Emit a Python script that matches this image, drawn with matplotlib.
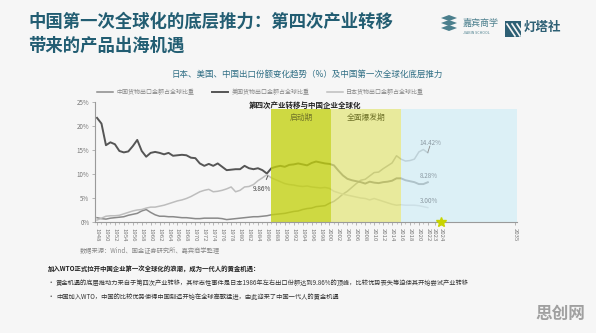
import numpy as np
import matplotlib
matplotlib.use("Agg")
import matplotlib.pyplot as plt
from matplotlib.patches import Polygon, Rectangle

plt.rcParams['font.family'] = ['Noto Sans CJK SC', 'DejaVu Sans']

# ---------------- data ----------------
years = list(range(1948, 2023))
us_share = [21.7, 20.5, 16.0, 16.6, 16.2, 14.8, 14.5, 14.7, 15.8, 17.1,
            14.8, 13.6, 14.4, 14.6, 14.4, 14.1, 14.4, 13.8, 13.9, 14.0,
            13.9, 13.4, 13.3, 12.2, 11.7, 12.1, 11.7, 12.2, 11.5, 10.8,
            10.9, 11.0, 11.0, 11.7, 11.2, 11.0, 11.2, 10.8, 10.1, 11.2,
            11.5, 11.7, 11.5, 11.9, 12.0, 12.2, 12.0, 11.8, 12.3, 12.6,
            12.4, 12.2, 12.1, 11.8, 10.7, 9.7, 9.0, 8.7, 8.5, 8.3,
            8.0, 8.4, 8.2, 8.1, 8.3, 8.4, 8.6, 9.1, 9.1, 8.7,
            8.5, 8.3, 7.9, 7.9, 8.28]
japan_share = [0.4, 0.8, 1.2, 1.3, 1.3, 1.4, 1.7, 2.0, 2.3, 2.5,
               2.6, 2.9, 3.1, 3.1, 3.3, 3.5, 3.8, 4.1, 4.4, 4.6,
               4.9, 5.3, 5.8, 6.3, 6.6, 6.8, 6.3, 6.4, 6.6, 6.9,
               7.3, 6.3, 6.6, 7.3, 7.4, 7.8, 8.6, 9.2, 9.86, 9.2,
               8.8, 8.4, 8.0, 7.8, 7.7, 7.5, 7.4, 7.5, 7.3, 7.2,
               7.1, 7.2, 7.0, 6.4, 6.1, 5.8, 5.6, 5.4, 5.2, 5.0,
               4.9, 4.6, 4.9, 4.6, 4.3, 4.0, 3.7, 3.5, 3.6, 3.5,
               3.5, 3.5, 3.4, 3.2, 3.0]
china_share = [0.9, 0.7, 0.6, 0.8, 0.9, 1.0, 1.1, 1.4, 1.6, 1.8,
               2.3, 2.6, 2.0, 1.5, 1.2, 1.2, 1.1, 1.1, 1.0, 0.9,
               0.9, 0.8, 0.7, 0.7, 0.8, 0.8, 0.8, 0.8, 0.7, 0.5,
               0.6, 0.7, 0.8, 0.9, 1.0, 1.1, 1.1, 1.2, 1.3, 1.5,
               1.6, 1.7, 1.8, 2.0, 2.2, 2.3, 2.6, 2.8, 2.9, 3.2,
               3.3, 3.4, 3.9, 4.3, 5.0, 5.8, 6.4, 7.2, 8.0, 8.7,
               8.9, 9.6, 10.3, 10.4, 11.1, 11.7, 12.3, 13.8, 13.1, 12.7,
               12.8, 13.1, 14.6, 15.1, 14.42]
tick_years = list(range(1948, 2023, 2)) + [2023, 2024, 2035]
y_ticks = [0, 5, 10, 15, 20, 25]
phases = [("启动期", 1987, 2000.3), ("全面爆发期", 2000.3, 2016), ("", 2016, 2035.3)]
legend_labels = ["中国货物出口金额占全球比重", "美国货物出口金额占全球比重", "日本货物出口金额占全球比重"]

# ---------------- figure ----------------
fig = plt.figure(figsize=(5.96, 3.33), dpi=100, facecolor='#f6f6f6')
ax = fig.add_axes([95/596, 1-222/333, 422/596, 120/333])
ax.set_facecolor('none')

def fwd(x):
    x = np.asarray(x, float)
    return np.where(x <= 2022, x, 2022 + (x - 2022) * 1.5)

def inv(y):
    y = np.asarray(y, float)
    return np.where(y <= 2022, y, 2022 + (y - 2022) / 1.5)

ax.set_xscale('function', functions=(fwd, inv))
ax.set_xlim(1947.55, 2035.3)
ax.set_ylim(0, 25)

l_cn, = ax.plot(years, china_share, color='#8a8a8a', lw=1.1, zorder=2)
l_us, = ax.plot(years, us_share, color='#555555', lw=1.4, zorder=2)
l_jp, = ax.plot(years, japan_share, color='#bdbdbd', lw=1.1, zorder=2)

# phase shading (drawn over lines, semi-transparent)
phase_colors = ['#c3d10f', '#e3e67a', '#d3eef7']
phase_alpha = [0.78, 0.72, 0.72]
for (name, x0, x1), c, a in zip(phases, phase_colors, phase_alpha):
    ax.fill_between([x0, x1], 0, 23.6, color=c, alpha=a, lw=0, zorder=3)
    if name:
        ax.text((x0 + x1) / 2, 21.7, name, ha='center', va='center',
                fontsize=5.6, color='#6f7228', zorder=5)
ax.text(1994.5, 24.4, "第四次产业转移与中国企业全球化", ha='center', va='center',
        fontsize=5.4, color='#222222', fontweight='bold', zorder=5)

# annotations
ax.annotate("9.86%", xy=(1986.2, 9.6), xytext=(1985.0, 6.9), ha='center', va='center',
            fontsize=4.6, color='#444444', zorder=2.5,
            arrowprops=dict(arrowstyle='-', color='#555555', lw=0.7, shrinkA=2, shrinkB=0))
ax.text(2020.2, 16.5, "14.42%", fontsize=4.6, color='#8c9aa3', va='center', zorder=5)
ax.plot([2022.0, 2022.3], [14.5, 15.8], color='#8a8a8a', lw=0.6, zorder=4)
ax.text(2020.2, 9.6, "8.28%", fontsize=4.6, color='#8c9aa3', va='center', zorder=5)
ax.text(2020.2, 4.4, "3.00%", fontsize=4.6, color='#8c9aa3', va='center', zorder=5)

ax.plot([2024], [0], marker='*', color='#c8d400', markersize=7, clip_on=False, zorder=6)

# axes styling
for s in ['top', 'right']:
    ax.spines[s].set_visible(False)
for s in ['left', 'bottom']:
    ax.spines[s].set_color('#9a9a9a')
    ax.spines[s].set_linewidth(0.8)
    ax.spines[s].set_zorder(4)
ax.set_yticks(y_ticks)
ax.set_yticklabels([f"{v}%" for v in y_ticks])
ax.set_xticks(tick_years)
ax.set_xticklabels([str(y) for y in tick_years], rotation=-90)
ax.set_xticks(list(range(1948, 2023)), minor=True)
ax.tick_params(axis='y', labelsize=4.5, labelcolor='#777777', length=2, width=0.5,
               color='#9a9a9a', pad=2)
ax.tick_params(axis='x', which='major', labelsize=4.3, labelcolor='#777777', length=2,
               width=0.5, color='#9a9a9a', pad=2)
ax.tick_params(axis='x', which='minor', length=1.5, width=0.4, color='#9a9a9a')

leg = ax.legend([l_cn, l_us, l_jp], legend_labels, loc='lower center',
                bbox_to_anchor=(0.393, 1.01), ncol=3, frameon=False, fontsize=4.3,
                handlelength=2.6, columnspacing=3.0, handletextpad=0.6)
for t in leg.get_texts():
    t.set_color('#888888')

# ---------------- slide texts ----------------
title_c = '#225d72'
fig.text(28/596, 1-22/333, "中国第一次全球化的底层推力：第四次产业转移", fontsize=12.5,
         fontweight='bold', color=title_c, va='center', ha='left')
fig.text(28/596, 1-46/333, "带来的产品出海机遇", fontsize=12.5,
         fontweight='bold', color=title_c, va='center', ha='left')
fig.text(307/596, 1-74/333, "日本、美国、中国出口份额变化趋势（%）及中国第一次全球化底层推力",
         fontsize=6.1, color='#2f6e84', ha='center', va='center')

# logos
for k in range(3):
    cy = 1 - (18 + k * 5) / 333
    fig.patches.append(Polygon([[441/596, cy], [449/596, cy + 3/333], [457/596, cy], [449/596, cy - 3/333]],
                               closed=True, transform=fig.transFigure, facecolor='#4b7f8d', edgecolor='none'))
fig.text(463/596, 1-23/333, "嘉宾商学", fontsize=6.5, color='#4b7f8d', va='center', ha='left')
fig.text(463/596, 1-33/333, "JIABIN SCHOOL", fontsize=2.6, color='#4b7f8d', va='center', ha='left')
fig.patches.append(Rectangle((505/596, 1-37/333), 16/596, 16/333, transform=fig.transFigure,
                             facecolor='#2d5f74', edgecolor='none'))
for k in range(3):
    fig.lines.append(plt.Line2D([(507 + k*5)/596, (515 + k*5)/596], [1-24/333, 1-36/333],
                                transform=fig.transFigure, color='#f6f6f6', lw=1.2))
fig.text(524/596, 1-27/333, "灯塔社", fontsize=9, fontweight='bold', color='#2d5f74',
         va='center', ha='left')

fig.text(80/596, 1-250/333, "数据来源：Wind、国金证券研究所、嘉宾商学整理", fontsize=4.5,
         color='#888888', va='center', ha='left')
fig.text(48/596, 1-269/333, "加入WTO正式拉开中国企业第一次全球化的浪潮，成为一代人的黄金机遇：",
         fontsize=4.6, fontweight='bold', color='#222222', va='center', ha='left')
fig.text(48/596, 1-283/333, "•", fontsize=4.6, color='#444444', va='center', ha='left')
fig.text(56/596, 1-283/333,
         "黄金机遇的底层推动力来自于第四次产业转移，其标志性事件是日本1986年左右出口份额达到9.86%的顶峰，比较优势丧失等迫使其开始尝试产业转移",
         fontsize=4.5, color='#333333', va='center', ha='left')
fig.text(48/596, 1-297/333, "•", fontsize=4.6, color='#444444', va='center', ha='left')
fig.text(56/596, 1-297/333,
         "中国加入WTO，中国的比较优势使得中国制造开始在全球高歌猛进，由此迎来了中国一代人的黄金机遇",
         fontsize=4.5, color='#333333', va='center', ha='left')

fig.text(560/596, 1-314/333, "思创网", fontsize=12, fontweight='bold', color='#a0a0a0',
         va='center', ha='center')

fig.savefig("out.png", dpi=100, facecolor=fig.get_facecolor())
